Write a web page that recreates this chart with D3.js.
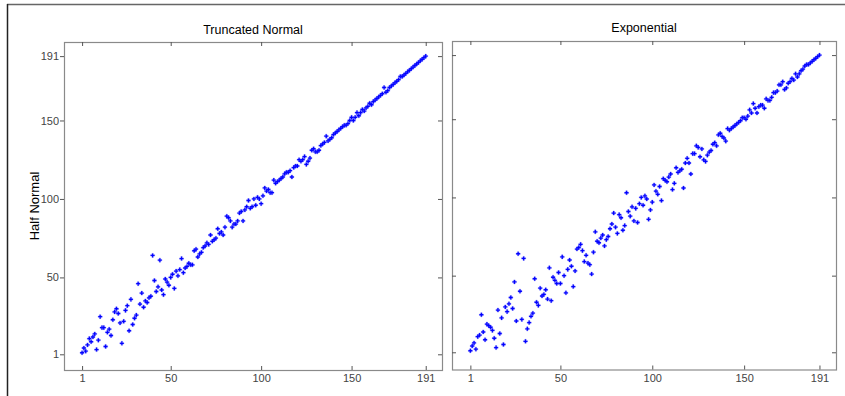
<!DOCTYPE html>
<html>
<head>
<meta charset="utf-8">
<script src="https://cdn.jsdelivr.net/npm/d3@7"></script>
<style>
  body { margin: 0; background: #fff; }
  svg { display: block; font-family: Arial, "Liberation Sans", sans-serif; }
</style>
</head>
<body>
<div id="chart"></div>
<script>
// ranks on the x axis (1..191), one point per rank
const ranks = d3.range(1, 192);

// Half Normal rank against Truncated Normal rank
const truncNormal = [
  2, 5, 3, 7, 11, 9, 12, 14, 4, 10,
  25, 18, 18, 6, 15, 17, 13, 23, 28, 30,
  27, 21, 8, 22, 29, 32, 16, 36, 20, 24,
  26, 46, 33, 40, 31, 35, 34, 37, 38, 64,
  48, 41, 44, 61, 42, 39, 49, 47, 45, 50,
  52, 43, 54, 51, 55, 62, 53, 56, 57, 59,
  58, 58, 67, 68, 63, 65, 66, 69, 70, 72,
  71, 77, 73, 74, 75, 81, 78, 79, 77, 82,
  89, 88, 86, 82, 84, 84, 86, 91, 92, 86,
  93, 95, 99, 94, 95, 100, 96, 101, 100, 97,
  102, 107, 105, 106, 104, 104, 112, 110, 111, 112,
  113, 114, 116, 117, 117, 118, 114, 120, 121, 121,
  125, 124, 125, 127, 122, 124, 126, 131, 132, 130,
  130, 131, 134, 135, 136, 140, 137, 138, 139, 141,
  142, 143, 144, 145, 146, 147, 147, 148, 150, 152,
  150, 152, 155, 153, 155, 157, 156, 158, 159, 161,
  160, 162, 163, 164, 165, 166, 167, 171, 168, 169,
  171, 172, 173, 174, 175, 176, 178, 178, 179, 180,
  181, 182, 183, 184, 185, 186, 187, 188, 189, 190, 191
];

// Half Normal rank against Exponential rank
const exponential = [
  2, 5, 7, 3, 11, 12, 25, 14, 9, 19,
  18, 17, 15, 10, 4, 28, 13, 23, 6, 30,
  27, 32, 36, 29, 46, 21, 64, 40, 22, 61,
  8, 16, 20, 24, 26, 48, 33, 31, 42, 37,
  38, 41, 35, 55, 34, 49, 47, 45, 52, 45,
  62, 50, 39, 54, 60, 56, 43, 53, 67, 68,
  70, 66, 59, 63, 58, 57, 51, 65, 78, 72,
  71, 74, 76, 69, 73, 75, 80, 83, 90, 81,
  77, 89, 87, 79, 82, 103, 91, 88, 94, 85,
  93, 84, 96, 100, 95, 101, 99, 86, 92, 97,
  108, 104, 102, 107, 98, 112, 111, 110, 113, 115,
  105, 109, 119, 116, 117, 118, 106, 122, 125, 122,
  115, 128, 128, 133, 132, 126, 131, 124, 123, 127,
  129, 130, 134, 135, 133, 140, 141, 139, 138, 136,
  144, 143, 144, 145, 146, 147, 148, 149, 151, 151,
  150, 152, 156, 154, 160, 157, 154, 158, 159, 159,
  157, 163, 162, 162, 164, 167, 167, 168, 172, 172,
  174, 169, 170, 173, 174, 176, 175, 179, 177, 179,
  181, 182, 184, 185, 185, 186, 187, 188, 189, 190, 191
];

const tickVals = [1, 50, 100, 150, 191];
const panelTitles = ["Truncated Normal", "Exponential"];
const yTitle = "Half Normal";

const W = 845, H = 396;

const svg = d3.select("#chart").append("svg")
  .attr("width", W)
  .attr("height", H);

// figure frame (only top and left edges show)
svg.append("line")
  .attr("x1", 7).attr("x2", W).attr("y1", 4.5).attr("y2", 4.5)
  .attr("stroke", "#666").attr("stroke-width", 1.5);
svg.append("line")
  .attr("x1", 7.5).attr("x2", 7.5).attr("y1", 4).attr("y2", H)
  .attr("stroke", "#222").attr("stroke-width", 1.5);

const panels = [
  { title: panelTitles[0], data: truncNormal, left: 64, right: 442, top: 42, bottom: 370, yDom: [-9, 200], titleY: 34, labels: true },
  { title: panelTitles[1], data: exponential, left: 452, right: 836, top: 41, bottom: 369.5, yDom: [-10, 200], titleY: 32, labels: false }
];

function styleAxis(g) {
  g.select(".domain").remove();
  g.selectAll(".tick line").attr("stroke", "#555");
  g.selectAll(".tick text")
    .attr("fill", "#444")
    .style("font-size", "11px")
    .style("font-family", "Arial, 'Liberation Sans', sans-serif");
}

panels.forEach(function (p) {
  let x = d3.scaleLinear().domain([-9, 200]).range([p.left, p.right]);
  let y = d3.scaleLinear().domain(p.yDom).range([p.bottom, p.top]);

  let g = svg.append("g");

  g.append("rect")
    .attr("x", p.left + 0.5)
    .attr("y", p.top + 0.5)
    .attr("width", p.right - p.left)
    .attr("height", p.bottom - p.top)
    .attr("fill", "none")
    .attr("stroke", "#8a8a8a")
    .attr("stroke-width", 1.2);

  g.append("g")
    .attr("transform", "translate(0," + p.bottom + ")")
    .call(d3.axisBottom(x).tickValues(tickVals).tickSize(-4).tickPadding(4.5))
    .call(styleAxis);

  g.append("g")
    .attr("transform", "translate(0," + p.top + ")")
    .call(d3.axisTop(x).tickValues(tickVals).tickSize(-4).tickFormat(""))
    .call(styleAxis);

  if (p.labels) {
    g.append("g")
      .attr("transform", "translate(" + p.left + ",0)")
      .call(d3.axisLeft(y).tickValues(tickVals).tickSize(4).tickPadding(1))
      .call(styleAxis);
  } else {
    g.append("g")
      .attr("transform", "translate(" + p.left + ",0)")
      .call(d3.axisLeft(y).tickValues(tickVals).tickSize(-4).tickFormat(""))
      .call(styleAxis);
  }

  g.append("g")
    .attr("transform", "translate(" + p.right + ",0)")
    .call(d3.axisRight(y).tickValues(tickVals).tickSize(-4).tickFormat(""))
    .call(styleAxis);

  g.append("g").selectAll("path")
    .data(p.data)
    .join("path")
    .attr("transform", (d, i) => "translate(" + x(ranks[i]) + "," + y(d) + ")")
    .attr("d", d3.symbol(d3.symbolCross, 9))
    .attr("fill", "#0000ff")
    .attr("stroke", "#3333ff")
    .attr("stroke-width", 0.3);

  g.append("text")
    .attr("x", (p.left + p.right) / 2)
    .attr("y", p.titleY)
    .attr("text-anchor", "middle")
    .style("font-size", "12.5px")
    .attr("fill", "#000")
    .text(p.title);
});

svg.append("text")
  .attr("transform", "translate(39,206) rotate(-90)")
  .attr("text-anchor", "middle")
  .style("font-size", "13px")
  .attr("fill", "#000")
  .text(yTitle);
</script>
</body>
</html>
